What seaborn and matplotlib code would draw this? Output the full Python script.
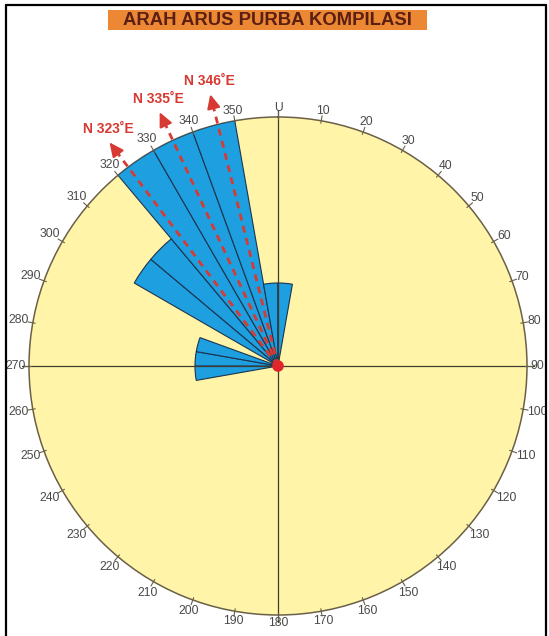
import numpy as np
import matplotlib
matplotlib.use("Agg")
import matplotlib.pyplot as plt
import seaborn as sns
from matplotlib.patches import Rectangle
from matplotlib.lines import Line2D

# ---- data ----
title = "ARAH ARUS PURBA KOMPILASI"
bin_start = [260, 270, 280, 300, 310, 320, 330, 340, 350, 0]
counts = [1, 1, 1, 2, 2, 3, 3, 3, 1, 1]
bin_width = 10
mean_dirs = [323, 335, 346]
mean_labels = ["N 323˚E", "N 335˚E", "N 346˚E"]
tick_angles = list(range(0, 360, 10))
tick_labels = ["U"] + [str(a) for a in range(10, 360, 10)]

sns.set_style("white")
plt.rcParams['font.family'] = ['Liberation Sans', 'DejaVu Sans']

W, H = 549, 636
fig = plt.figure(figsize=(W / 100, H / 100), dpi=100)
cx, cy, R = 278, 366, 249
ax = fig.add_axes([(cx - R) / W, (H - cy - R) / H, 2 * R / W, 2 * R / H],
                  projection='polar')
ax.set_theta_zero_location('N')
ax.set_theta_direction(-1)
RMAX = 3
ax.set_ylim(0, RMAX)
ax.set_facecolor('#FFF4A8')
ax.spines['polar'].set_color('#6a6048')
ax.spines['polar'].set_linewidth(1.1)
ax.grid(False)
ax.set_xticks([])
ax.set_yticks([])

# rose petals
theta = np.deg2rad(np.array(bin_start) + bin_width / 2)
ax.bar(theta, counts, width=np.deg2rad(bin_width), bottom=0,
       color='#1E9FE0', edgecolor='#1b3550', linewidth=0.8, zorder=3)

# cross lines
for a in [0, 90, 180, 270]:
    t = np.deg2rad(a)
    ax.plot([t, t], [0, RMAX * 1.03], color='#3f3d30', lw=0.9,
            clip_on=False, zorder=4)

# ticks and labels
px = RMAX / R
for a, lab in zip(tick_angles, tick_labels):
    t = np.deg2rad(a)
    ax.plot([t, t], [RMAX * 0.99, RMAX * 1.02], color='#6a6048', lw=0.8,
            clip_on=False, zorder=4)
    w = 6.2 * len(lab)
    h = 9.0
    rp = R + 4 + 0.5 * (w * abs(np.sin(t)) + h * abs(np.cos(t)))
    ax.text(t, rp * px, lab, ha='center', va='center', fontsize=8.7,
            color='#4a4a4a', clip_on=False)

# mean directions
red = '#D63A33'
tip = 280 * px
for d, lab in zip(mean_dirs, mean_labels):
    t = np.deg2rad(d)
    ax.plot([t, t], [0, tip - 14 * px], color=red, lw=2,
            ls=(0, (2.5, 2)), clip_on=False, zorder=6)
    ax.annotate('', xy=(t, tip), xytext=(t, tip - 10 * px),
                arrowprops=dict(arrowstyle='-|>,head_length=0.85,head_width=0.4',
                                color=red, lw=1.5, shrinkA=0, shrinkB=0),
                annotation_clip=False, zorder=7)
    ax.annotate(lab, xy=(t, tip), xytext=(-1, 13), textcoords='offset pixels',
                ha='center', va='center', fontsize=10, fontweight='bold',
                color=red, annotation_clip=False)

# centre dot
sns.scatterplot(x=[0], y=[0], ax=ax, s=70, color='#E0262A',
                edgecolor='none', zorder=10, legend=False)
ax.set_xlabel('')
ax.set_ylabel('')
ax.set_ylim(0, RMAX)

# title box
fig.add_artist(Rectangle((108 / W, 1 - 30 / H), 319 / W, 20 / H,
                         transform=fig.transFigure, facecolor='#EC8733',
                         edgecolor='none'))
fig.text(267.5 / W, 1 - 20.5 / H, title, ha='center', va='center',
         fontsize=13.3, fontweight='bold', color='#5A1E12')

# frame
fl = dict(color='black', lw=1.6, transform=fig.transFigure)
fig.add_artist(Line2D([6 / W, 6 / W], [0, 1 - 5 / H], **fl))
fig.add_artist(Line2D([6 / W, 546 / W], [1 - 5 / H, 1 - 5 / H], **fl))
fig.add_artist(Line2D([546 / W, 546 / W], [0, 1 - 5 / H], **fl))

fig.savefig('out.png', dpi=100, facecolor='white')
